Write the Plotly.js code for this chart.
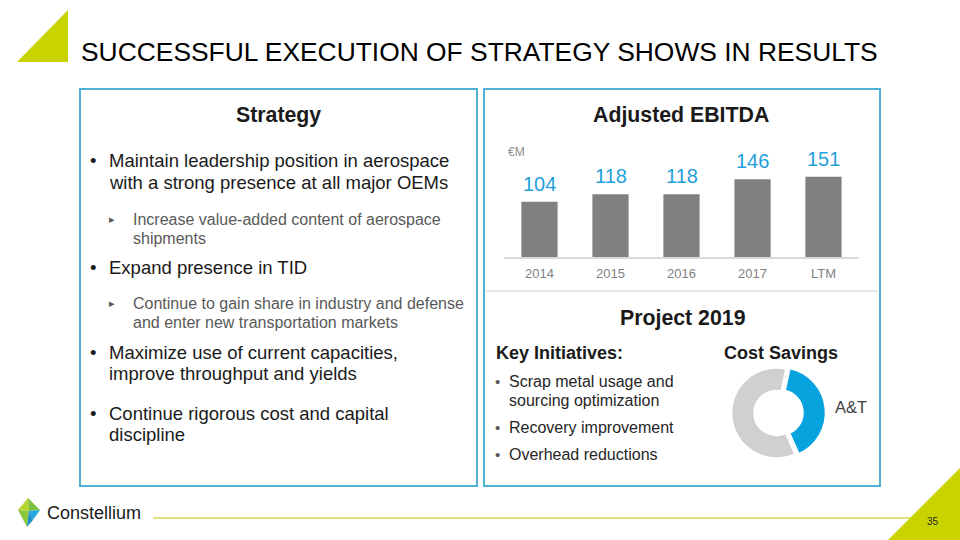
<!DOCTYPE html>
<html>
<head>
<meta charset="utf-8">
<script src="https://cdn.plot.ly/plotly-3.0.1.min.js"></script>
<style>html,body{margin:0;padding:0;background:#fff;}#chart{width:960px;height:540px;}</style>
</head>
<body>
<div id="chart"></div>
<script>
// ---------- data ----------
const slideTitle = 'SUCCESSFUL EXECUTION OF STRATEGY SHOWS IN RESULTS';
const categories = ['2014', '2015', '2016', '2017', 'LTM'];
const ebitda = [104, 118, 118, 146, 151];
const ebitdaUnit = '€M';
const savingsLabels = ['A&T', 'Other'];
const savingsShare = [40, 60];
const strategyTitle = 'Strategy';
const strategyLines = [
  'Maintain leadership position in aerospace',
  'with a strong presence at all major OEMs',
  'Increase value-added content of aerospace',
  'shipments',
  'Expand presence in TID',
  'Continue to gain share in industry and defense',
  'and enter new transportation markets',
  'Maximize use of current capacities,',
  'improve throughput and yields',
  'Continue rigorous cost and capital',
  'discipline'
];
const ebitdaTitle = 'Adjusted EBITDA';
const projectTitle = 'Project 2019';
const initiativesTitle = 'Key Initiatives:';
const initiativeLines = [
  'Scrap metal usage and',
  'sourcing optimization',
  'Recovery improvement',
  'Overhead reductions'
];
const savingsTitle = 'Cost Savings';
const brandName = 'Constellium';
const pageNumber = '35';

// ---------- layout helpers ----------
const W = 960, H = 540;
const X = v => v / W;
const Y = v => 1 - v / H;
const FONT = 'Liberation Sans, Arial, Helvetica, sans-serif';
const LIME = '#c9d300';
const BORDER = '#4fb1d3';
const BLUE = '#1fa0da';
const TEXT = '#1a1a1a';
const SUBTEXT = '#595959';

function txt(text, x, y, size, opts) {
  opts = opts || {};
  return {
    xref: 'paper', yref: 'paper', x: X(x), y: Y(y), text: text, showarrow: false,
    xanchor: opts.anchor || 'left', yanchor: 'middle',
    font: {family: FONT, size: size, color: opts.color || TEXT, weight: opts.bold ? 'bold' : 'normal'}
  };
}
function tri(pts, color) {
  let d = 'M ' + pts.map(p => X(p[0]) + ',' + Y(p[1])).join(' L ') + ' Z';
  return {type: 'path', xref: 'paper', yref: 'paper', path: d, fillcolor: color, line: {width: 0}};
}

// ---------- traces ----------
const barTrace = {
  type: 'bar', x: categories, y: ebitda, xaxis: 'x', yaxis: 'y',
  marker: {color: '#808080'}, hoverinfo: 'skip', showlegend: false
};
const pieTrace = {
  type: 'pie', labels: savingsLabels, values: savingsShare, sort: false,
  direction: 'clockwise', rotation: 12, hole: 0.5, pull: [0.09, 0],
  marker: {colors: ['#06a3df', '#d0d0d0'], line: {color: '#ffffff', width: 1.5}},
  textinfo: 'none', hoverinfo: 'skip', showlegend: false,
  domain: {x: [X(727), X(826)], y: [Y(462), Y(364)]}
};

// ---------- annotations ----------
const ann = [];
ann.push(txt(slideTitle, 79, 52, 26.4, {color: '#000000'}));
ann.push(txt(strategyTitle, 278, 115, 21.3, {anchor: 'center', bold: true}));
ann.push(txt(ebitdaTitle, 681, 115, 21.3, {anchor: 'center', bold: true}));
ann.push(txt(projectTitle, 683, 318, 21.3, {anchor: 'center', bold: true}));
ann.push(txt(initiativesTitle, 494, 353, 18, {bold: true}));
ann.push(txt(savingsTitle, 781, 353, 18, {anchor: 'center', bold: true}));

// strategy list
const sLevel = [1, 1, 2, 2, 1, 2, 2, 1, 1, 1, 1];
const sBullet = [true, false, true, false, true, true, false, true, false, true, false];
const sY = [160, 182, 219, 238, 267, 303, 322, 352, 374, 413, 434];
strategyLines.forEach((line, i) => {
  if (sLevel[i] === 1) {
    if (sBullet[i]) ann.push(txt('•', 93, sY[i], 18.5, {anchor: 'center'}));
    ann.push(txt(line, 107, sY[i], 18.5));
  } else {
    if (sBullet[i]) ann.push(txt('▸', 112, sY[i], 11, {anchor: 'center', color: SUBTEXT}));
    ann.push(txt(line, 131, sY[i], 16, {color: SUBTEXT}));
  }
});

// key initiatives
const kY = [381, 400, 427, 454];
const kBullet = [true, false, true, true];
initiativeLines.forEach((line, i) => {
  if (kBullet[i]) ann.push(txt('•', 497, kY[i], 15, {anchor: 'center', color: SUBTEXT}));
  ann.push(txt(line, 507, kY[i], 16, {color: '#262626'}));
});

// EBITDA unit + value labels (x given as category index)
ann.push(txt(ebitdaUnit, 506, 152, 12, {color: '#8c8c8c'}));
ebitda.forEach((v, i) => {
  ann.push({xref: 'x', yref: 'y', x: i, y: v, text: String(v), showarrow: false,
    xanchor: 'center', yanchor: 'bottom', yshift: 5,
    font: {family: FONT, size: 20, color: BLUE}});
});

// donut label
ann.push(txt(savingsLabels[0], 833, 407, 16.5, {color: '#404040'}));

// footer
ann.push(txt(brandName, 45, 513, 18, {color: '#1a1a1a'}));
ann.push(txt(pageNumber, 933, 521, 10, {anchor: 'center', color: '#262626'}));

// ---------- shapes ----------
const shapes = [
  tri([[17, 62], [68, 10], [68, 62]], LIME),
  {type: 'rect', xref: 'paper', yref: 'paper', x0: X(80), x1: X(477), y0: Y(486), y1: Y(89),
   line: {color: BORDER, width: 2}, fillcolor: 'rgba(0,0,0,0)'},
  {type: 'rect', xref: 'paper', yref: 'paper', x0: X(484), x1: X(880), y0: Y(486), y1: Y(89),
   line: {color: BORDER, width: 2}, fillcolor: 'rgba(0,0,0,0)'},
  {type: 'line', xref: 'paper', yref: 'paper', x0: X(486), x1: X(878), y0: Y(291), y1: Y(291),
   line: {color: '#e8e8e8', width: 2}},
  {type: 'line', xref: 'paper', yref: 'paper', x0: X(153), x1: X(925), y0: Y(518), y1: Y(518),
   line: {color: '#d3da55', width: 1.5}},
  tri([[888, 540], [960, 468], [960, 540]], LIME),
  // logo
  tri([[28, 498], [18, 510], [29, 511]], '#b8d432'),
  tri([[28, 498], [40, 510], [29, 511]], '#7dc143'),
  tri([[29, 511], [40, 510], [33, 520]], '#27a8e0'),
  tri([[18, 510], [29, 511], [27, 527]], '#8cc63f'),
  tri([[29, 511], [33, 520], [27, 527]], '#1b8fc9')
];

const layout = {
  width: W, height: H, margin: {l: 0, r: 0, t: 0, b: 0},
  paper_bgcolor: '#ffffff', plot_bgcolor: 'rgba(0,0,0,0)',
  showlegend: false, bargap: 0.49,
  xaxis: {domain: [X(504), X(859)], type: 'category', range: [-0.5, categories.length - 0.5],
    autorange: false, showline: true, linecolor: '#d9d9d9', linewidth: 1.5,
    showgrid: false, zeroline: false, ticks: '', ticklabelstandoff: 4,
    tickfont: {family: FONT, size: 13, color: '#7f7f7f'}, fixedrange: true},
  yaxis: {domain: [Y(257), Y(140)], range: [0, 220], autorange: false, visible: false, fixedrange: true},
  annotations: ann, shapes: shapes
};

Plotly.newPlot('chart', [barTrace, pieTrace], layout, {displayModeBar: false, staticPlot: true});
</script>
</body>
</html>
